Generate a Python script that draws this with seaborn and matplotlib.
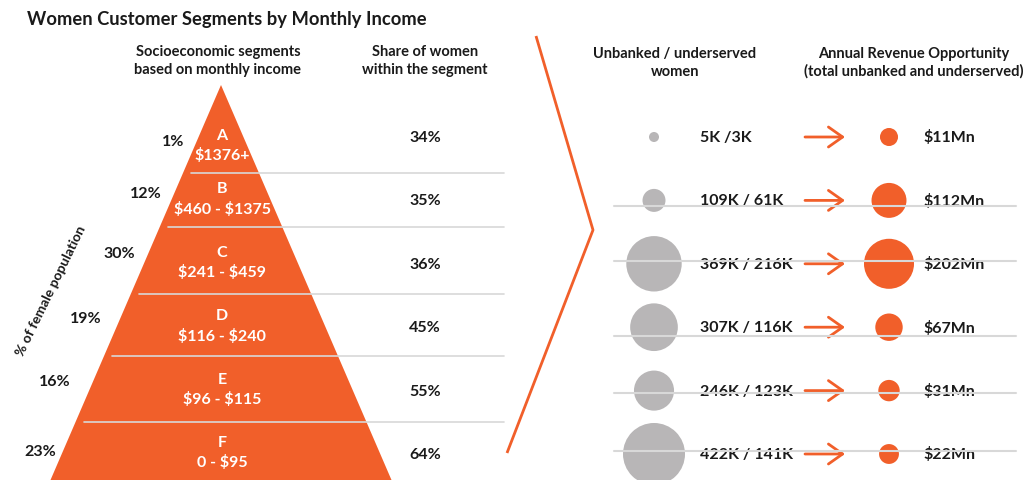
import numpy as np
import pandas as pd
import matplotlib
matplotlib.use("Agg")
import matplotlib.pyplot as plt
import seaborn as sns

# --- data ---
segments = ["A", "B", "C", "D", "E", "F"]
income_ranges = ["$1376+", "$460 - $1375", "$241 - $459",
                 "$116 - $240", "$96 - $115", "0 - $95"]
female_pop_pct = [1, 12, 30, 19, 16, 23]
share_women_pct = [34, 35, 36, 45, 55, 64]
unbanked_k = [5, 109, 369, 307, 246, 422]
underserved_k = [3, 61, 216, 116, 123, 141]
revenue_mn = [11, 112, 202, 67, 31, 22]

ORANGE = "#F15F2A"
GREY = "#B8B6B7"
LINE = "#D8D8D8"
TXT = "#1a1a1a"

W, H = 1031, 481

sns.set_theme(style="white")
plt.rcParams["font.family"] = ["Lato", "DejaVu Sans"]
plt.rcParams["text.parse_math"] = False

fig = plt.figure(figsize=(W / 100, H / 100), dpi=100)
ax = fig.add_axes([0, 0, 1, 1])
ax.set_xlim(0, W)
ax.set_ylim(H, 0)
ax.axis("off")

row_y = 138 + 63.4 * np.arange(len(segments))
bounds = [174, 228, 295, 357, 423]

# pyramid
apex_x, apex_y, base_y, base_half = 221, 86, 481, 170.5
slope = base_half / (base_y - apex_y)
ax.fill([apex_x, apex_x - slope * 420, apex_x + slope * 420],
        [apex_y, apex_y + 420, apex_y + 420], color=ORANGE, lw=0, zorder=1)


def left_edge(y):
    return apex_x - slope * (y - apex_y)


for b in bounds:
    ax.plot([left_edge(b) + 8, 504], [b, b], color=LINE, lw=1.2, zorder=2)

# text in pyramid
for i, (seg, rng) in enumerate(zip(segments, income_ranges)):
    yc = row_y[i] + (8 if i == 0 else -2)
    ax.text(apex_x + 1, yc - 10, seg, color="white", fontsize=11.5,
            fontweight="bold", ha="center", va="center", zorder=3)
    ax.text(apex_x + 1, yc + 10, rng, color="white", fontsize=11.5,
            fontweight="bold", ha="center", va="center", zorder=3)

# % of female population labels
pct_right = [184, 162, 135, 102, 71, 56]
pct_y = [142, 194, 254, 319, 382, 452]
for v, xr, yy in zip(female_pop_pct, pct_right, pct_y):
    ax.text(xr, yy, f"{v}%", color=TXT, fontsize=11.5, fontweight="bold",
            ha="right", va="center")
ax.text(51, 291, "% of female population", color=TXT, fontsize=10,
        fontweight="bold", rotation=64, ha="center", va="center",
        rotation_mode="anchor")

# share of women
for v, yy in zip(share_women_pct, row_y):
    ax.text(425, yy, f"{v}%", color=TXT, fontsize=11.5, fontweight="bold",
            ha="center", va="center")

# chevron
ax.plot([536, 593, 507], [37, 231, 454], color=ORANGE, lw=2,
        solid_capstyle="butt")

# bubbles
df = pd.DataFrame({"seg": segments, "y": row_y,
                   "unbanked": unbanked_k, "revenue": revenue_mn})
px2pt = 72 / 100
grey_sizes = {v: (px2pt * (9.4 + 0.1247 * v)) ** 2 for v in unbanked_k}
orange_sizes = {v: (px2pt * (16.2 + 0.1675 * v)) ** 2 for v in revenue_mn}
sns.scatterplot(data=df, x=np.full(len(df), 654), y="y", size="unbanked",
                sizes=grey_sizes, color=GREY, linewidth=0, legend=False,
                ax=ax, zorder=2)
sns.scatterplot(data=df, x=np.full(len(df), 889), y="y", size="revenue",
                sizes=orange_sizes, color=ORANGE, linewidth=0, legend=False,
                ax=ax, zorder=2)

for i, yy in enumerate(row_y):
    sep = " /" if i == 0 else " / "
    ax.text(700, yy, f"{unbanked_k[i]}K{sep}{underserved_k[i]}K", color=TXT,
            fontsize=11.5, fontweight="bold", ha="left", va="center",
            zorder=3)
    ax.text(923, yy, f"${revenue_mn[i]}Mn", color=TXT, fontsize=11.5,
            fontweight="bold", ha="left", va="center", zorder=3)
    ax.annotate("", xy=(845, yy), xytext=(805, yy),
                arrowprops=dict(arrowstyle="->,head_length=0.85,head_width=0.6",
                                color=ORANGE, lw=2, shrinkA=0, shrinkB=0),
                zorder=3)

# grey rule lines on the right, drawn over the marks
for yy in [207, 262, 337, 394, 452]:
    ax.plot([614, 1016], [yy, yy], color=LINE, lw=1.5, zorder=4)

# headers
hdr = dict(color=TXT, fontsize=10.5, fontweight="bold", ha="center",
           va="center", linespacing=1.3)
ax.text(218, 61, "Socioeconomic segments\nbased on monthly income", **hdr)
ax.text(425, 61, "Share of women\nwithin the segment", **hdr)
ax.text(675, 63, "Unbanked / underserved\nwomen", **hdr)
ax.text(914, 63, "Annual Revenue Opportunity\n(total unbanked and underserved)",
        **hdr)

ax.text(27, 19, "Women Customer Segments by Monthly Income", color=TXT,
        fontsize=13.2, fontweight="bold", ha="left", va="center")

fig.savefig("out.png", dpi=100)
